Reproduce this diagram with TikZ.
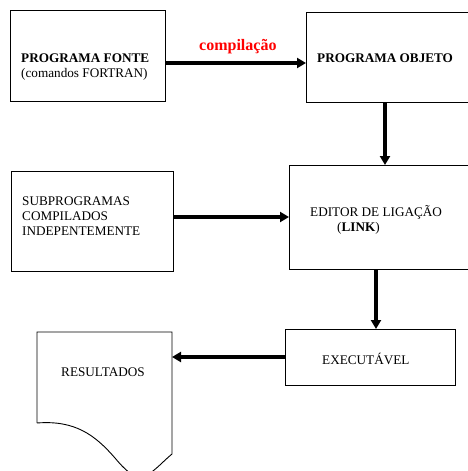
\documentclass[tikz,border=0pt]{standalone}
\usepackage{fontspec}
\setmainfont{Liberation Serif}
\usetikzlibrary{arrows.meta,calc}
\begin{document}
\begin{tikzpicture}[x=1pt,y=-1pt,
  box/.style={draw,line width=0.9pt,inner sep=0pt,outer sep=0pt,anchor=north west},
  txt/.style={anchor=base west,inner sep=0pt,align=left,font=\fontsize{13.2}{15}\selectfont},
  arr/.style={line width=3.2pt,-{Triangle[length=9pt,width=10pt]}}]
\useasboundingbox (0,0) rectangle (467,471);
% boxes
\node[box,minimum width=155pt,minimum height=91pt] (fonte) at (10,10) {};
\node[box,minimum width=190pt,minimum height=90pt] (objeto) at (306,12) {};
\node[box,minimum width=200pt,minimum height=104pt] (editor) at (289,165) {};
\node[box,minimum width=162pt,minimum height=100pt] (sub) at (11,171) {};
\node[box,minimum width=170pt,minimum height=56pt] (exec) at (285,329) {};
% document shape
\draw[line width=0.9pt] (37,423) -- (37,332) -- (172,332) coordinate (docTR) -- (172,454)
  .. controls (162,462) and (150,477) .. (140,477)
  .. controls (133,477) and (125,470) .. (115,458)
  .. controls (95,435) and (75,420) .. (37,423);
% texts
\node[txt] (t1) at (21,77) {\textbf{PROGRAMA FONTE}\\(comandos FORTRAN)};
\node[txt,text=red,font=\fontsize{16}{18}\selectfont\bfseries] (t2) at (199,50) {compilação};
\node[txt] (t3) at (317,62.5) {\textbf{PROGRAMA OBJETO}};
\node[txt] (t4) at (22,235.5) {SUBPROGRAMAS\\COMPILADOS\\INDEPENTEMENTE};
\node[txt] (t5) at (310,216) {EDITOR DE LIGAÇÃO};
\node[txt] (t6) at (337,231.5) {(\textbf{LINK})};
\node[txt] (t7) at (322,364) {EXECUTÁVEL};
\node[txt] (t8) at (61,376) {RESULTADOS};
% arrows
\draw[arr] ([yshift=-7.5pt]fonte.east) -- ([yshift=-7.5pt]fonte.east -| objeto.west);
\draw[arr] (objeto.south west) ++(79,0) coordinate (d1) -- (d1 |- editor.north);
\draw[arr] ([yshift=4pt]sub.east) -- ([yshift=4pt]sub.east -| editor.west);
\draw[arr] (editor.south west) ++(87,0) coordinate (d2) -- (d2 |- exec.north);
\draw[arr] (exec.west) -- (exec.west -| docTR);
\end{tikzpicture}
\end{document}
